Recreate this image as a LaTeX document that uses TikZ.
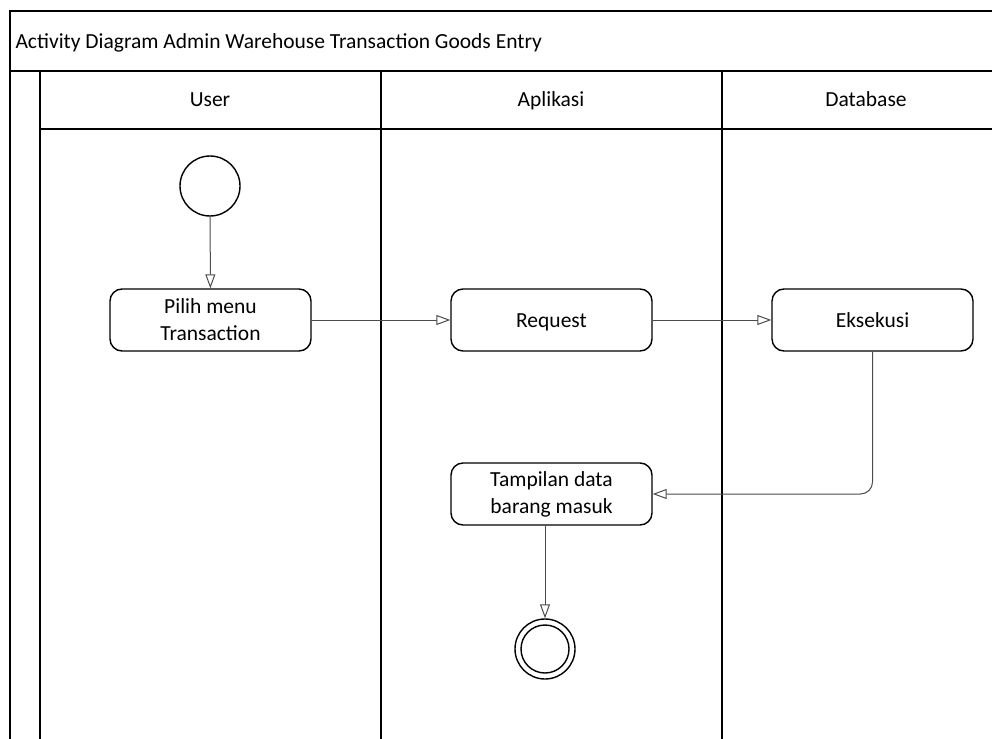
\documentclass[tikz,border=0pt]{standalone}
\usepackage{fontspec}
\setmainfont{Carlito}
\usetikzlibrary{arrows.meta}
\begin{document}
\begin{tikzpicture}[x=1pt,y=-1pt,
  frame/.style={line width=1.6pt,black},
  act/.style={draw,line width=1.4pt,rounded corners=12pt,minimum width=201pt,minimum height=62pt,align=center,inner sep=2pt,font=\fontsize{21.5}{27}\selectfont},
  oneline/.style={text height=16pt,text depth=2pt},
  flow/.style={draw=black!70,line width=1pt,-{Triangle[open,length=14pt,width=10pt,fill=white]}},
  lbl/.style={font=\fontsize{21.5}{27}\selectfont,text height=16pt,text depth=2pt}]
\useasboundingbox (0,0) rectangle (992,738);
% frame
\draw[frame] (10,745) -- (10,11) -- (1000,11);
\draw[frame] (10,71) -- (1000,71);
\draw[frame] (40,745) -- (40,71);
\draw[frame] (40,129) -- (1000,129);
\draw[frame] (381,71) -- (381,745);
\draw[frame] (722,71) -- (722,745);
\node[lbl,anchor=west] (title) at (12,42) {Activity Diagram Admin Warehouse Transaction Goods Entry};
\node[lbl] (lu) at (210,100) {User};
\node[lbl] (la) at (551,100) {Aplikasi};
\node[lbl] (ld) at (866,100) {Database};
% nodes
\node[draw,circle,line width=1.4pt,minimum size=60pt,inner sep=0pt] (start) at (210,186) {};
\node[act] (pilih) at (210.5,320) {Pilih menu\\Transaction};
\node[act,oneline] (req) at (551.5,320) {Request};
\node[act,oneline] (eks) at (872.5,320) {Eksekusi};
\node[act] (tamp) at (551.5,494) {Tampilan data\\barang masuk};
\node[draw,circle,line width=1.4pt,minimum size=60pt,inner sep=0pt] (end) at (545,649) {};
\node[draw,circle,line width=1.4pt,minimum size=48pt,inner sep=0pt] (endin) at (end) {};
% flows
\draw[flow] (start) -- (pilih);
\draw[flow] (pilih) -- (req);
\draw[flow] (req) -- (eks);
\draw[flow,rounded corners=12pt] (eks.south) -- (eks.south |- tamp.east) -- (tamp.east);
\draw[flow] (tamp.south -| end) -- (end);
\end{tikzpicture}
\end{document}
